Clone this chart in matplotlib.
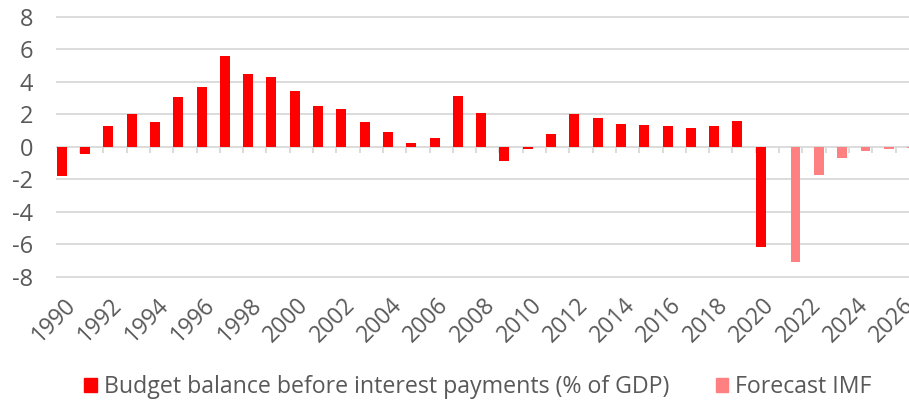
import matplotlib
matplotlib.use("Agg")
import matplotlib.pyplot as plt
from matplotlib.patches import Patch

plt.rcParams["font.family"] = ["Open Sans", "DejaVu Sans"]

years = list(range(1990, 2027))
# Budget balance before interest payments (% of GDP), actuals 1990-2020
actual = [-1.8, -0.45, 1.3, 2.0, 1.5, 3.05, 3.7, 5.6, 4.45, 4.3, 3.4,
          2.5, 2.3, 1.5, 0.9, 0.2, 0.55, 3.1, 2.05, -0.9, -0.15,
          0.8, 2.0, 1.75, 1.4, 1.35, 1.3, 1.15, 1.25, 1.6, -6.2]
# IMF forecast 2021-2026
forecast_years = list(range(2021, 2027))
forecast = [-7.1, -1.75, -0.7, -0.25, -0.12, -0.1]

label_actual = "Budget balance before interest payments (% of GDP)"
label_forecast = "Forecast IMF"
yticks = [-8, -6, -4, -2, 0, 2, 4, 6, 8]

RED = "#FF0000"
PINK = "#FF8080"
GRID = "#D9D9D9"
TEXT = "#595959"

W, H = 909, 403
fig = plt.figure(figsize=(W / 100, H / 100), dpi=100)

# axes in pixel terms: left 56.7, 23.3 px per year, slightly wider than figure
n = len(years)
cw = 23.3
left_px, top_px, bot_px = 56.7, 16.7, 276.7
ax = fig.add_axes([left_px / W, 1 - bot_px / H, n * cw / W, (bot_px - top_px) / H])
ax.set_xlim(0, n)
ax.set_ylim(-8, 8)

for s in ax.spines.values():
    s.set_visible(False)

for y in yticks:
    ax.axhline(y, color=GRID, lw=1.3, zorder=0, clip_on=False)

bw = 0.43
xa = [years.index(y) for y in years[:len(actual)]]
ax.bar(xa, actual, width=bw, align="edge", color=RED, zorder=3)
xf = [years.index(y) + 0.51 for y in forecast_years]
ax.bar(xf, forecast, width=0.41, align="edge", color=PINK, zorder=3)

# category tick marks on the zero line
ax.vlines(range(1, n + 1), -0.38, 0, color=GRID, lw=1.3, zorder=1)

ax.set_yticks(yticks)
ax.set_yticklabels([str(v) for v in yticks], fontsize=17, color=TEXT)
ax.tick_params(axis="y", length=0, pad=17)
ax.tick_params(axis="x", length=0)
ax.set_xticks([])

# year labels below the plot, every other year
trans = matplotlib.transforms.blended_transform_factory(ax.transData, ax.transAxes)
for i, y in enumerate(years):
    if y % 2 == 0:
        ax.text(i + 0.3, -0.065, str(y), transform=trans, rotation=45,
                ha="right", va="top", rotation_mode="anchor",
                fontsize=16.5, color=TEXT)

handles = [Patch(color=RED, label=label_actual), Patch(color=PINK, label=label_forecast)]
fig.legend(handles=handles, loc="center", bbox_to_anchor=(478 / W, 1 - 387 / H),
           ncol=2, frameon=False, fontsize=16.7, handlelength=0.55, handleheight=0.55,
           handletextpad=0.3, columnspacing=2.0, labelcolor=TEXT)

fig.savefig("out.png", dpi=100)
